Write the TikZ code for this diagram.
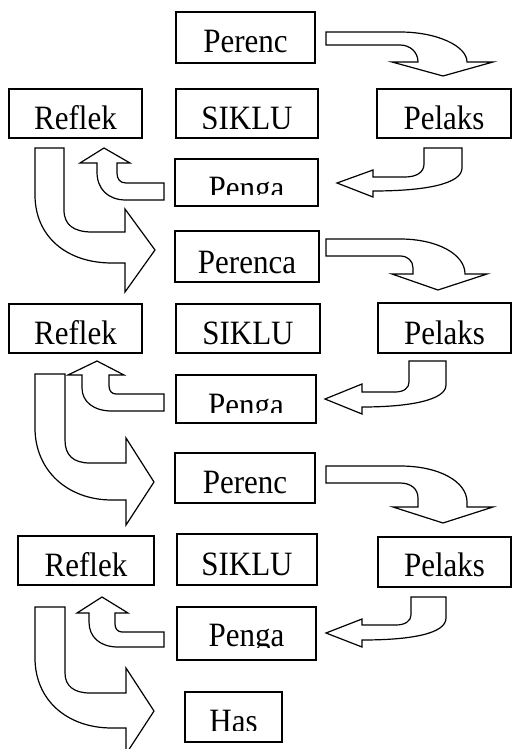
\documentclass[tikz,border=0pt]{standalone}
\usepackage{fontspec}
\setmainfont{Liberation Serif}
\tikzset{
  cbox/.style={draw, line width=1.7pt, inner sep=0pt},
  barrow/.style={draw, line width=1.2pt, line join=miter, fill=white},
  lbl/.style={anchor=base, inner sep=0pt, font=\fontsize{31}{31}\selectfont},
}
% #1 name, #2 left, #3 top, #4 right, #5 bottom, #6 text, #7 baseline, #8 lower edge of the visible text
\newcommand\cyclebox[8]{%
  \node[cbox, minimum width={#4-#2}, minimum height={#5-#3},
    path picture={
      \clip (path picture bounding box.north west) rectangle
            ([yshift={#3-#8}]path picture bounding box.north east);
      \node[lbl] (#1-text) at ([yshift={#3-#7}]path picture bounding box.north)
        {\scalebox{1}[1.1]{#6}};
    }] (#1) at ({(#2+#4)/2},{(#3+#5)/2}) {};
}
\begin{document}
\begin{tikzpicture}[x=1pt,y=-1pt]
\useasboundingbox (0,0) rectangle (512,749);
\clip (0,0) rectangle (512,749);

% first cycle
\cyclebox{plan1}{176}{12}{315}{63}{Perenc}{53}{63}
\cyclebox{refl1}{9}{89}{142}{138}{Reflek}{129.3}{138}
\cyclebox{cyc1}{176}{89}{318}{138}{SIKLU}{129.5}{129}
\cyclebox{act1}{377}{89}{511}{138}{Pelaks}{129.5}{138}
\cyclebox{obs1}{175}{159}{318}{206}{Penga}{199}{194.5}

% second cycle
\cyclebox{plan2}{175}{231}{319}{282}{Perenca}{273}{282}
\cyclebox{refl2}{9}{304}{142}{353}{Reflek}{344.5}{353}
\cyclebox{cyc2}{176}{304}{320}{353}{SIKLU}{344.5}{353}
\cyclebox{act2}{378}{303}{511}{353}{Pelaks}{344}{353}
\cyclebox{obs2}{176}{375}{316}{423}{Penga}{416}{412.7}

% third cycle
\cyclebox{plan3}{175}{453}{315}{503}{Perenc}{493}{503}
\cyclebox{refl3}{18}{536}{154}{585}{Reflek}{576}{585}
\cyclebox{cyc3}{177}{534}{317}{585}{SIKLU}{575}{585}
\cyclebox{act3}{378}{537}{511}{587}{Pelaks}{576.5}{587}
\cyclebox{obs3}{177}{607}{316}{660}{Penga}{646}{647.5}
\cyclebox{res}{185}{692}{282}{742}{Has}{732.5}{730}

% block arrows, first cycle
\draw[barrow] (326,32) -- (400,32) .. controls (437,32) and (467,46) .. (467,62)
  -- (493,62) -- (443,76) -- (392,62) -- (418,62)
  .. controls (418,52) and (410,45) .. (400,45) -- (326,45) -- cycle;
\draw[barrow] (424,148) -- (462,148) -- (462,168)
  .. controls (462,184) and (425,191) .. (373,191)
  -- (373,197) -- (337,183) -- (373,170) -- (373,177) -- (405,177)
  .. controls (417,177) and (424,172) .. (424,164) -- cycle;
\draw[barrow] (164,183) -- (126,183) .. controls (120,183) and (117,179) .. (117,173)
  -- (117,163) -- (130,163) -- (104,148) -- (80,163) -- (97,163) -- (97,172)
  .. controls (97,189) and (108,200) .. (126,200) -- (164,200) -- cycle;
\draw[barrow] (35,148) -- (64,148) -- (64,210) .. controls (64,225) and (74,232) .. (92,232)
  -- (125,232) -- (125,209) -- (155,250) -- (125,292) -- (125,263) -- (112,263)
  .. controls (66,263) and (35,236) .. (35,195) -- cycle;

% block arrows, second cycle
\draw[barrow] (326,239) -- (400,239) .. controls (437,239) and (465,254) .. (465,274)
  -- (487,274) -- (438,290) -- (392,274) -- (413,274) -- (413,268)
  .. controls (413,261) and (408,256) .. (400,256) -- (326,256) -- cycle;
\draw[barrow] (409,361) -- (446,361) -- (446,385)
  .. controls (446,400) and (410,407) .. (362,407)
  -- (362,414) -- (325,399) -- (362,384) -- (362,392) -- (395,392)
  .. controls (404,392) and (409,388) .. (409,382) -- cycle;
\draw[barrow] (164,394) -- (116,394) .. controls (112,394) and (109,391) .. (109,386)
  -- (109,375) -- (124,375) -- (97,361) -- (68,375) -- (82,375) -- (82,388)
  .. controls (82,402) and (94,411) .. (112,411) -- (164,411) -- cycle;
\draw[barrow] (35,374) -- (65,374) -- (65,440) .. controls (65,455) and (73,463) .. (90,463)
  -- (126,463) -- (126,438) -- (154,482) -- (126,525) -- (126,500) -- (112,500)
  .. controls (67,500) and (35,470) .. (35,428) -- cycle;

% block arrows, third cycle
\draw[barrow] (326,466) -- (400,466) .. controls (440,466) and (467,482) .. (467,502)
  -- (467,507) -- (493,507) -- (443,523) -- (393,507) -- (418,507) -- (418,498)
  .. controls (418,489) and (411,483) .. (400,483) -- (326,483) -- cycle;
\draw[barrow] (411,597) -- (446,597) -- (446,618)
  .. controls (446,634) and (410,640) .. (362,640)
  -- (362,647) -- (326,633) -- (362,619) -- (362,625) -- (396,625)
  .. controls (405,625) and (411,621) .. (411,615) -- cycle;
\draw[barrow] (164,632) -- (122,632) .. controls (118,632) and (115,629) .. (115,624)
  -- (115,613) -- (128,613) -- (102,597) -- (77,613) -- (89,613) -- (89,622)
  .. controls (89,637) and (100,647) .. (118,647) -- (164,647) -- cycle;
\draw[barrow] (35,607) -- (65,607) -- (65,673) .. controls (65,686) and (74,693) .. (90,693)
  -- (126,693) -- (126,668) -- (154,711) -- (126,754) -- (126,728) -- (112,728)
  .. controls (67,728) and (35,700) .. (35,658) -- cycle;
\end{tikzpicture}
\end{document}
